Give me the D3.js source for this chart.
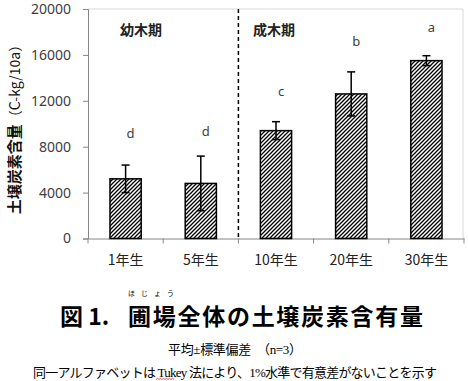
<!DOCTYPE html>
<html><head><meta charset="utf-8">
<script src="https://cdn.jsdelivr.net/npm/d3@7"></script>
<style>body{margin:0;background:#fff}svg{display:block}</style>
</head><body>
<script>
const categories = ["1年生","5年生","10年生","20年生","30年生"];
const means = [5200, 4800, 9400, 12600, 15500];
const sds = [1200, 2380, 780, 1920, 430];
const letters = ["d","d","c","b","a"];
const yTicks = [0, 4000, 8000, 12000, 16000, 20000];
const groupLabels = ["幼木期","成木期"];

const W = 468, H = 381;
const svg = d3.select("body").append("svg").attr("width", W).attr("height", H);
const m = {l: 88, r: 464, t: 9, b: 238.5};

const x = d3.scaleBand().domain(categories).range([m.l, m.r]).paddingInner(0).paddingOuter(0);
const y = d3.scaleLinear().domain([0, 20000]).range([m.b, m.t]);

const defs = svg.append("defs");
const pat = defs.append("pattern").attr("id","hatch").attr("patternUnits","userSpaceOnUse")
  .attr("width",4).attr("height",4);
pat.append("rect").attr("width",4).attr("height",4).attr("fill","#fff");
pat.append("path").attr("d","M-1,1 l2,-2 M0,4 l4,-4 M3,5 l2,-2")
  .attr("stroke","#000").attr("stroke-width",1.3);

const axisCol = "#868686";
svg.append("line").attr("x1",m.l).attr("x2",m.r-1).attr("y1",y(20000)).attr("y2",y(20000))
  .attr("stroke","#d9d9d9").attr("stroke-width",1);
svg.append("line").attr("x1",m.r-1).attr("x2",m.r-1).attr("y1",y(20000)).attr("y2",y(0))
  .attr("stroke","#d9d9d9").attr("stroke-width",1);

const ya = svg.append("g").attr("transform",`translate(${m.l},0)`)
  .call(d3.axisLeft(y).tickValues(yTicks).tickSize(5).tickPadding(12).tickFormat(d3.format("d")));
ya.select(".domain").attr("stroke",axisCol);
ya.selectAll(".tick line").attr("stroke",axisCol);
ya.selectAll("text").attr("font-family","'Noto Sans', sans-serif").attr("font-size",14).attr("fill","#404040");

const xa = svg.append("g").attr("transform",`translate(0,${m.b})`)
  .call(d3.axisBottom(x).tickSize(0).tickPadding(17));
xa.select(".domain").attr("stroke",axisCol);
xa.selectAll("text").attr("font-family","'Noto Sans CJK JP', sans-serif").attr("font-size",14).attr("fill","#222");
const bounds = categories.map(c => x(c)).concat([x(categories[4]) + x.bandwidth()]);
svg.append("g").selectAll("line").data(bounds).join("line")
  .attr("x1",d=>d).attr("x2",d=>d).attr("y1",m.b).attr("y2",m.b+5)
  .attr("stroke",axisCol);

const sepX = x(categories[2]);
svg.append("line").attr("x1",sepX).attr("x2",sepX).attr("y1",y(20000)).attr("y2",y(0))
  .attr("stroke","#000").attr("stroke-width",1.5).attr("stroke-dasharray","4,3");

const bw = x.bandwidth()*0.415;
svg.append("g").selectAll("rect").data(categories).join("rect")
  .attr("x",(c)=>x(c)+x.bandwidth()/2-bw/2)
  .attr("y",(c,i)=>y(means[i]))
  .attr("width",bw)
  .attr("height",(c,i)=>y(0)-y(means[i]))
  .attr("fill","url(#hatch)").attr("stroke","#000").attr("stroke-width",1.5);

const eg = svg.append("g").attr("stroke","#000").attr("stroke-width",1.5);
categories.forEach((c,i)=>{
  const cx = x(c)+x.bandwidth()/2;
  const hi = y(means[i]+sds[i]), lo = y(means[i]-sds[i]);
  eg.append("line").attr("x1",cx).attr("x2",cx).attr("y1",hi).attr("y2",lo);
  eg.append("line").attr("x1",cx-4).attr("x2",cx+4).attr("y1",hi).attr("y2",hi);
  eg.append("line").attr("x1",cx-4).attr("x2",cx+4).attr("y1",lo).attr("y2",lo);
});

const letterY = [138, 136, 96, 46, 32];
svg.append("g").selectAll("text").data(categories).join("text")
  .attr("x",(c)=>x(c)+x.bandwidth()/2+5)
  .attr("y",(c,i)=>letterY[i])
  .attr("text-anchor","middle")
  .attr("font-family","'Noto Sans', sans-serif").attr("font-size",13).attr("fill","#404040")
  .text((c,i)=>letters[i]);

svg.append("text").attr("x",120).attr("y",35).attr("font-family","'Noto Sans CJK JP', sans-serif")
  .attr("font-size",14).attr("font-weight","bold").attr("fill","#222").text(groupLabels[0]);
svg.append("text").attr("x",253).attr("y",35).attr("font-family","'Noto Sans CJK JP', sans-serif")
  .attr("font-size",14).attr("font-weight","bold").attr("fill","#222").text(groupLabels[1]);

const yt = svg.append("text").attr("transform","translate(20,126) rotate(-90)")
  .attr("text-anchor","middle").attr("font-family","'Noto Sans CJK JP', sans-serif")
  .attr("font-size",15).attr("fill","#111");
yt.append("tspan").attr("font-weight","bold").text("土壌炭素含量");
yt.append("tspan").attr("font-size",14).text("（C-kg/10a）");

svg.append("text").attr("x",60).attr("y",325).attr("font-family","'Noto Sans CJK JP', sans-serif")
  .attr("font-size",23).attr("font-weight","bold").attr("fill","#000").text("図 1.");
svg.append("text").attr("x",128).attr("y",325).attr("font-family","'Noto Sans CJK JP', sans-serif")
  .attr("font-size",23).attr("font-weight","bold").attr("fill","#000")
  .attr("textLength",295).attr("lengthAdjust","spacing").text("圃場全体の土壌炭素含有量");
svg.append("text").attr("x",128).attr("y",296).attr("font-family","'Noto Sans CJK JP', sans-serif")
  .attr("font-size",7).attr("fill","#000")
  .attr("textLength",46).attr("lengthAdjust","spacing").text("ほじょう");

svg.append("text").attr("x",168).attr("y",354)
  .attr("font-family","'Liberation Serif', 'Noto Sans CJK JP', serif")
  .attr("font-size",13).attr("fill","#000")
  .attr("textLength",134).attr("lengthAdjust","spacing")
  .text("平均±標準偏差　（n=3）");
svg.append("text").attr("x",33).attr("y",377)
  .attr("font-family","'Liberation Serif', 'Noto Sans CJK JP', serif")
  .attr("font-size",13).attr("fill","#000")
  .attr("textLength",404).attr("lengthAdjust","spacing")
  .text("同一アルファベットは Tukey 法により、1%水準で有意差がないことを示す");
let sq = "M156,379.5";
for (let i = 0; i < 12; i++) sq += ` l1.5,${i%2?1.2:-1.2}`;
svg.append("path").attr("d",sq).attr("fill","none").attr("stroke","#e02020").attr("stroke-width",0.8);
</script>
</body></html>
